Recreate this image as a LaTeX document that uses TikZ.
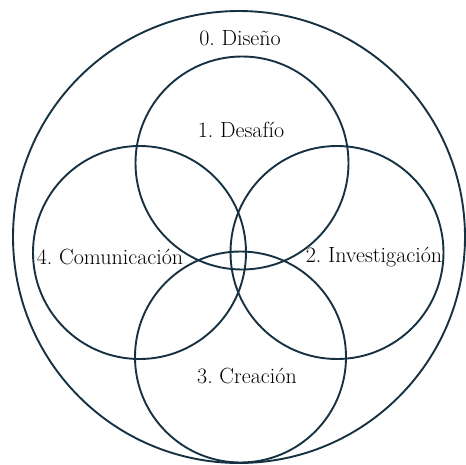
\documentclass[tikz,border=0pt]{standalone}
\usepackage{xcolor}
\usepackage{tikz}
\usetikzlibrary{calc,positioning}

\definecolor{ringcol}{RGB}{22,50,66}

\tikzset{
    ring/.style={draw=ringcol, line width=1.9pt, circle, inner sep=0pt},
    etapa/.style={font=\rmfamily\fontsize{22}{26}\selectfont\frenchspacing, text=black, inner sep=1pt}
}

\begin{document}
\begin{tikzpicture}[x=1pt, y=-1pt]

    \useasboundingbox (0,0) rectangle (466,464);

    % Outer circle
    \node[ring, minimum size=452pt] (diseno) at (239,237) {};

    % Inner circles
    \node[ring, minimum size=213pt] (desafio) at (242,163) {};
    \node[ring, minimum size=213pt] (comunicacion) at (139.5,252.5) {};
    \node[ring, minimum size=213pt] (investigacion) at (337,252.5) {};
    \node[ring, minimum size=211pt] (creacion) at (240.5,357) {};

    % Labels
    \node[etapa] (t0) at (240,38) {0. Diseño};
    \node[etapa] (t1) at (241,130) {1. Desafío};
    \node[etapa] (t4) at (110,257) {4. Comunicación};
    \node[etapa] (t2) at (374,257) {2. Investigación};
    \node[etapa] (t3) at (247,376) {3. Creación};
\end{tikzpicture}
\end{document}
